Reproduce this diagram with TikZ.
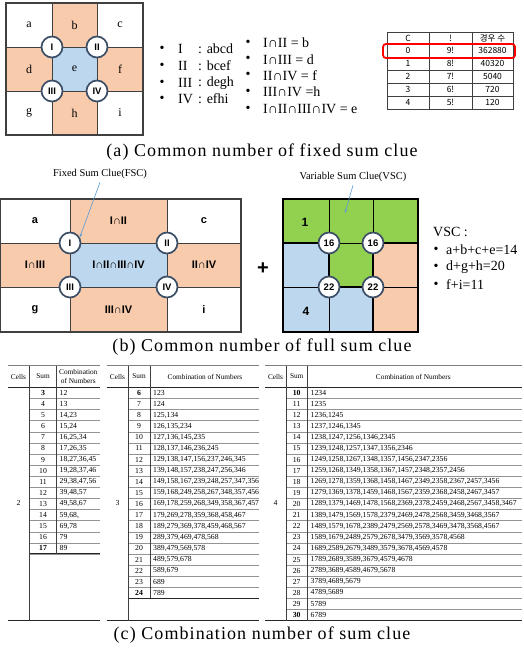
\documentclass[tikz,border=0pt]{standalone}
\usepackage{fontspec}
\setmainfont{Liberation Serif}
\setsansfont{Liberation Sans}
\newfontfamily\krfont{Noto Sans CJK KR}
\newfontfamily\capfont[LetterSpace=6]{Liberation Serif}
\usetikzlibrary{arrows.meta}

\definecolor{peach}{HTML}{F8CBAD}
\definecolor{pale}{HTML}{BDD7EE}
\definecolor{leaf}{HTML}{92D050}
\definecolor{ring}{HTML}{3B4E66}
\definecolor{pointer}{HTML}{5B9BD5}
\definecolor{gridline}{HTML}{404040}

\tikzset{
  clue/.style={circle, draw=ring, line width=1.7pt, fill=white, minimum size=21pt, inner sep=0pt,
    font=\sffamily\bfseries\fontsize{9.5}{9.5}\selectfont},
  letter/.style={font=\fontsize{12}{12}\selectfont},
  boldlab/.style={font=\sffamily\bfseries\fontsize{11}{11}\selectfont},
  listtxt/.style={anchor=west, inner sep=0pt, font=\fontsize{14}{14}\selectfont},
  dot/.style={inner sep=0pt, font=\fontsize{14}{14}\selectfont},
  kr/.style={inner sep=0pt, font=\krfont\fontsize{8.5}{8.5}\selectfont},
  captxt/.style={font=\capfont\fontsize{18}{18}\selectfont},
  note/.style={font=\fontsize{10.5}{10.5}\selectfont},
  pointarrow/.style={draw=pointer, line width=0.6pt, -{Stealth[length=4pt,width=3pt]}},
  thinline/.style={draw=gridline, line width=0.8pt},
  thickline/.style={draw=black, line width=1.8pt},
  fineline/.style={draw=black, line width=0.6pt},
  tdata/.style={inner sep=0pt, font=\fontsize{7.7}{7.7}\selectfont},
  thead/.style={inner sep=0pt, align=center, font=\fontsize{7.3}{9.5}\selectfont},
  rowrule/.style={draw=gray!85, line width=0.45pt},
  colrule/.style={draw=black!75, line width=0.5pt},
  toprule/.style={draw=gray, line width=1.2pt},
  midrule/.style={draw=black!85, line width=1.1pt},
}

\begin{document}
\begin{tikzpicture}[x=1pt, y=-1pt]
\useasboundingbox (0,0) rectangle (523,650);
\fill[white] (0,0) rectangle (523,650);

% ---------- (a) the 3x3 board ----------
\fill[peach] (52,3) rectangle (97,47);
\fill[peach] (6,47) rectangle (52,91);
\fill[peach] (97,47) rectangle (143,91);
\fill[peach] (52,91) rectangle (97,135);
\fill[pale] (52,47) rectangle (97,91);
\draw[thinline] (52,3) -- (52,135) (97,3) -- (97,135) (6,47) -- (143,47) (6,91) -- (143,91);
\draw[gridline, line width=1.2pt] (6,3) rectangle (143,135);
\node[letter] (ca) at (29,25) {a};
\node[letter] (cb) at (74.5,25) {b};
\node[letter] (cc) at (120,25) {c};
\node[letter] (cd) at (29,69) {d};
\node[letter] (ce) at (74.5,69) {e};
\node[letter] (cf) at (120,69) {f};
\node[letter] (cg) at (29,113) {g};
\node[letter] (ch) at (74.5,113) {h};
\node[letter] (ci) at (120,113) {i};
\node[clue] (a1) at (52,47) {I};
\node[clue] (a2) at (97,47) {II};
\node[clue] (a3) at (52,91) {III};
\node[clue] (a4) at (97,91) {IV};

% first list: the cells of each region
\foreach \r/\s/\y [count=\k] in {I/abcd/49, II/bcef/66, III/degh/83, IV/efhi/99} {
  \node[dot] (pb\k) at (162,\y) {•};
  \node[listtxt] (pr\k) at (178,\y) {\r};
  \node[listtxt] (ps\k) at (198,\y) {: \s};
}
% second list: intersections
\foreach \t/\y [count=\k] in {{I∩II = b}/43, {I∩III = d}/59.5, {II∩IV = f}/75.5, {III∩IV =h}/92, {I∩II∩III∩IV = e}/109} {
  \node[dot] (qb\k) at (248,\y) {•};
  \node[listtxt] (qt\k) at (263,\y) {\t};
}

% factorial table
\draw[gridline, line width=0.6pt] (387,32) rectangle (513,109);
\foreach \y in {44,57,70,83,96} \draw[gridline, line width=0.5pt] (387,\y) -- (513,\y);
\draw[gridline, line width=0.6pt] (429,32) -- (429,109) (472,32) -- (472,109);
\node[kr] (h1) at (408,38) {C};
\node[kr] (h2) at (450.5,38) {!};
\node[kr] (h3) at (492.5,38) {경우 수};
\foreach \c/\f/\n [count=\k from 0] in {0/9!/362880, 1/8!/40320, 2/7!/5040, 3/6!/720, 4/5!/120} {
  \node[kr] (fc\k) at (408,{50.5+13*\k}) {\c};
  \node[kr] (ff\k) at (450.5,{50.5+13*\k}) {\f};
  \node[kr] (fn\k) at (492.5,{50.5+13*\k}) {\n};
}
\draw[red, line width=1.8pt, rounded corners=3pt] (383,44) rectangle (515,58);

\node[captxt] (capa) at (262,152) {(a) Common number of fixed sum clue};

% ---------- (b) fixed sum clues ----------
\fill[peach] (70,199) rectangle (167,243);
\fill[peach] (0,243) rectangle (70,287);
\fill[peach] (167,243) rectangle (241,287);
\fill[peach] (70,287) rectangle (167,332);
\fill[pale] (70,243) rectangle (167,287);
\draw[thinline] (70,199) -- (70,332) (167,199) -- (167,332) (0,243) -- (241,243) (0,287) -- (241,287);
\draw[gridline, line width=1.2pt] (0.6,199) rectangle (241,332);
\node[boldlab] (ba) at (35,221) {a};
\node[boldlab] (bb) at (118.5,221) {I{\mdseries∩}II};
\node[boldlab] (bc) at (204,221) {c};
\node[boldlab] (bd) at (35,265) {I{\mdseries∩}III};
\node[boldlab] (be) at (118.5,265) {I{\mdseries∩}II{\mdseries∩}III{\mdseries∩}IV};
\node[boldlab] (bf) at (204,265) {II{\mdseries∩}IV};
\node[boldlab] (bg) at (35,310) {g};
\node[boldlab] (bh) at (118.5,310) {III{\mdseries∩}IV};
\node[boldlab] (bi) at (204,310) {i};
\node[clue] (f1) at (70,243) {I};
\node[clue] (f2) at (167,243) {II};
\node[clue] (f3) at (70,287) {III};
\node[clue] (f4) at (167,287) {IV};
\node[note] (fsc) at (100,174) {Fixed Sum Clue(FSC)};
\draw[pointarrow] (fsc.south) -- (f1.30);

\node[font=\sffamily\bfseries\fontsize{20}{20}\selectfont] (plus) at (263,269) {+};

% ---------- (b) variable sum clues ----------
\fill[leaf] (283,199) rectangle (418,243);
\fill[leaf] (329,243) rectangle (373,287);
\fill[pale] (283,243) rectangle (329,332);
\fill[pale] (329,287) rectangle (373,332);
\fill[peach] (373,243) rectangle (418,332);
\draw[fineline] (329,199) -- (329,243) (373,199) -- (373,243) (329,243) -- (373,243)
  (283,287) -- (329,287) (329,287) -- (329,332) (373,287) -- (418,287);
\draw[thickline] (283,243) -- (329,243) (373,243) -- (418,243) (329,243) -- (329,287)
  (373,243) -- (373,332) (329,287) -- (373,287);
\draw[thickline] (283,199) rectangle (418,332);
\node[boldlab, font=\sffamily\bfseries\fontsize{12}{12}\selectfont] (v1) at (305,222) {1};
\node[boldlab, font=\sffamily\bfseries\fontsize{12}{12}\selectfont] (v4) at (306,311) {4};
\node[clue] (s1) at (329,243) {16};
\node[clue] (s2) at (373,243) {16};
\node[clue] (s3) at (329,287) {22};
\node[clue] (s4) at (373,287) {22};
\node[note] (vsc) at (353,177) {Variable Sum Clue(VSC)};
\coordinate (vtip) at (345,213);
\draw[pointarrow] (vsc.south) -- (vtip);

\node[listtxt] (vh) at (433,232) {VSC :};
\foreach \t/\y [count=\k] in {a+b+c+e=14/250, d+g+h=20/267, f+i=11/285} {
  \node[dot] (vb\k) at (436,\y) {•};
  \node[listtxt] (vt\k) at (446,\y) {\t};
}

\node[captxt] (capb) at (262,347) {(b) Common number of full sum clue};

% ---------- (c) combination tables ----------
% rows start at 387.3 and are 11.11 high; all tables share the header band
% table for two cells
\draw[toprule] (8,365.7) -- (100,365.7);
\draw[midrule] (8,387.3) -- (100,387.3);
\node[thead] (t1h1) at (18.5,376.5) {Cells};
\node[thead] (t1h2) at (43,376.5) {Sum};
\node[thead] (t1h3) at (78.3,376.5) {Combination\\of Numbers};
\foreach \s/\c [count=\i from 0] in {\textbf{3}/12, 4/13, 5/{14,23}, 6/{15,24}, 7/{16,25,34}, 8/{17,26,35},
  9/{18,27,36,45}, 10/{19,28,37,46}, 11/{29,38,47,56}, 12/{39,48,57}, 13/{49,58,67}, 14/{59,68,},
  15/{69,78}, 16/79, \textbf{17}/89} {
  \pgfmathsetmacro\yc{387.3+(\i+0.5)*11.11}
  \pgfmathsetmacro\yb{387.3+(\i+1)*11.11}
  \node[tdata] (ta\i) at (43,\yc) {\s};
  \node[tdata, anchor=west] (tb\i) at (59.5,\yc) {\c};
  \draw[rowrule] (29.3,\yb) -- (100,\yb);
}
\draw[midrule] (29.3,553.9) -- (100,553.9);
\draw[midrule] (8,620.5) -- (100,620.5);
\draw[colrule] (29.3,365.7) -- (29.3,620.5) (56.7,365.7) -- (56.7,553.9);
\node[tdata] (t1n) at (18.5,502.7) {2};

% table for three cells
\draw[toprule] (106.7,365.7) -- (259.3,365.7);
\draw[midrule] (106.7,387.3) -- (259.3,387.3);
\node[thead] (t2h1) at (117.5,376.5) {Cells};
\node[thead] (t2h2) at (139,376.5) {Sum};
\node[thead] (t2h3) at (205,376.5) {Combination of Numbers};
\foreach \s/\c [count=\i from 0] in {\textbf{6}/123, 7/124, 8/{125,134}, 9/{126,135,234}, 10/{127,136,145,235},
  11/{128,137,146,236,245}, 12/{129,138,147,156,237,246,345}, 13/{139,148,157,238,247,256,346},
  14/{149,158,167,239,248,257,347,356}, 15/{159,168,249,258,267,348,357,456},
  16/{169,178,259,268,349,358,367,457}, 17/{179,269,278,359,368,458,467},
  18/{189,279,369,378,459,468,567}, 19/{289,379,469,478,568}, 20/{389,479,569,578},
  21/{489,579,678}, 22/{589,679}, 23/689, \textbf{24}/789} {
  \pgfmathsetmacro\yc{387.3+(\i+0.5)*11.11}
  \pgfmathsetmacro\yb{387.3+(\i+1)*11.11}
  \node[tdata] (tc\i) at (139,\yc) {\s};
  \node[tdata, anchor=west] (td\i) at (153,\yc) {\c};
  \draw[rowrule] (128.3,\yb) -- (259.3,\yb);
}
\draw[midrule] (128.3,598.4) -- (259.3,598.4);
\draw[midrule] (106.7,620.5) -- (259.3,620.5);
\draw[colrule] (128.3,365.7) -- (128.3,620.5) (150,365.7) -- (150,598.4);
\node[tdata] (t2n) at (117.5,502.7) {3};

% table for four cells
\draw[toprule] (265,365.7) -- (521.7,365.7);
\draw[midrule] (265,387.3) -- (521.7,387.3);
\node[thead] (t3h1) at (275.5,376.5) {Cells};
\node[thead] (t3h2) at (296.7,376.5) {Sum};
\node[thead] (t3h3) at (413.3,376.5) {Combination of Numbers};
\foreach \s/\c [count=\i from 0] in {\textbf{10}/1234, 11/1235, 12/{1236,1245}, 13/{1237,1246,1345},
  14/{1238,1247,1256,1346,2345}, 15/{1239,1248,1257,1347,1356,2346},
  16/{1249,1258,1267,1348,1357,1456,2347,2356},
  17/{1259,1268,1349,1358,1367,1457,2348,2357,2456},
  18/{1269,1278,1359,1368,1458,1467,2349,2358,2367,2457,3456},
  19/{1279,1369,1378,1459,1468,1567,2359,2368,2458,2467,3457},
  20/{1289,1379,1469,1478,1568,2369,2378,2459,2468,2567,3458,3467},
  21/{1389,1479,1569,1578,2379,2469,2478,2568,3459,3468,3567},
  22/{1489,1579,1678,2389,2479,2569,2578,3469,3478,3568,4567},
  23/{1589,1679,2489,2579,2678,3479,3569,3578,4568},
  24/{1689,2589,2679,3489,3579,3678,4569,4578},
  25/{1789,2689,3589,3679,4579,4678}, 26/{2789,3689,4589,4679,5678},
  27/{3789,4689,5679}, 28/{4789,5689}, 29/5789, \textbf{30}/6789} {
  \pgfmathsetmacro\yc{387.3+(\i+0.5)*11.11}
  \pgfmathsetmacro\yb{387.3+(\i+1)*11.11}
  \node[tdata] (te\i) at (296.7,\yc) {\s};
  \node[tdata, anchor=west] (tf\i) at (310.5,\yc) {\c};
  \draw[rowrule] (286,\yb) -- (521.7,\yb);
}
\draw[midrule] (265,620.5) -- (521.7,620.5);
\draw[colrule] (286,365.7) -- (286,620.5) (307.3,365.7) -- (307.3,620.5);
\node[tdata] (t3n) at (275.5,502.7) {4};

\node[captxt] (capc) at (262,635) {(c) Combination number of sum clue};
\end{tikzpicture}
\end{document}
